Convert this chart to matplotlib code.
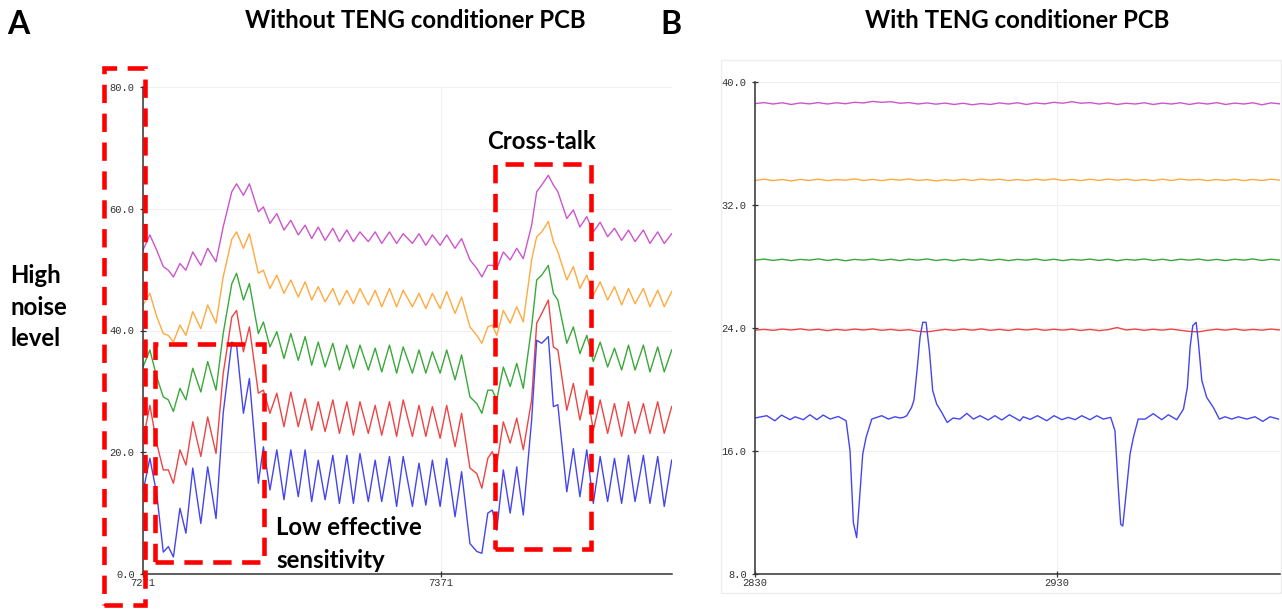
import numpy as np
import matplotlib
matplotlib.use("Agg")
import matplotlib.pyplot as plt
from matplotlib.patches import Rectangle

# ---------------- data: panel A (without conditioner) ----------------
xa = [7271.0, 7273.3, 7275.6, 7277.8, 7279.5, 7281.2, 7283.4, 7285.4, 7287.7, 7290.4,
      7292.7, 7295.5, 7297.9, 7300.8, 7302.4, 7304.7, 7306.7, 7309.7, 7311.4, 7313.6,
      7315.9, 7318.3, 7320.6, 7323.1, 7325.4, 7327.6, 7329.8, 7332.1, 7334.7, 7336.9,
      7339.4, 7341.6, 7343.8, 7346.6, 7348.9, 7351.1, 7353.7, 7356.1, 7358.3, 7361.4,
      7363.6, 7365.9, 7368.1, 7370.7, 7372.9, 7375.7, 7377.9, 7380.7, 7383.0, 7384.7,
      7386.7, 7388.2, 7389.7, 7391.9, 7394.2, 7396.4, 7398.6, 7401.4, 7403.1, 7404.8,
      7407.0, 7408.7, 7410.2, 7413.2, 7415.4, 7417.6, 7419.9, 7422.1, 7424.4, 7426.9,
      7429.2, 7431.6, 7433.9, 7436.1, 7438.9, 7441.1, 7443.7, 7445.9, 7448.4]

blue_a = [13.5, 19.0, 13.2, 3.6, 4.5, 2.8, 10.8, 6.7, 17.4, 8.3,
          17.6, 9.1, 26.4, 38.1, 37.6, 26.4, 32.1, 14.9, 20.9, 13.8,
          20.4, 12.2, 20.4, 12.7, 20.4, 11.9, 18.7, 12.2, 19.5, 11.6,
          19.5, 11.6, 19.8, 11.9, 18.7, 11.9, 19.3, 11.1, 19.3, 11.1,
          18.2, 11.3, 18.7, 11.1, 19.0, 9.4, 16.8, 5.0, 3.7, 3.4,
          10.0, 10.5, 7.2, 17.1, 10.0, 17.6, 9.7, 25.3, 38.4, 37.9,
          39.0, 27.5, 27.8, 13.5, 20.6, 12.7, 20.4, 11.6, 19.3, 11.9,
          19.0, 11.6, 19.5, 11.9, 19.5, 11.6, 19.3, 11.1, 18.7]

red_a = [22.0, 27.7, 21.5, 17.1, 17.1, 14.9, 20.4, 17.9, 25.0, 19.3,
         25.8, 19.8, 32.9, 42.2, 43.3, 36.5, 40.6, 29.7, 30.2, 26.4,
         29.7, 24.2, 29.9, 24.2, 28.8, 23.6, 28.3, 23.4, 28.6, 23.1,
         28.3, 22.8, 28.3, 23.1, 27.7, 22.8, 28.3, 22.6, 28.6, 22.6,
         27.7, 22.6, 27.5, 22.3, 27.7, 20.9, 26.4, 17.4, 16.5, 14.1,
         19.0, 20.1, 17.9, 25.0, 21.5, 25.6, 20.4, 28.6, 41.2, 42.8,
         45.0, 37.3, 36.8, 26.9, 31.3, 25.3, 30.2, 23.6, 28.6, 23.1,
         28.0, 22.6, 28.3, 23.1, 28.0, 23.1, 28.3, 23.1, 27.5]

green_a = [34.0, 36.8, 32.4, 29.1, 28.6, 26.7, 30.5, 28.6, 33.8, 29.9,
           34.9, 30.2, 39.5, 47.7, 49.4, 45.0, 47.7, 39.5, 41.4, 37.3,
           39.8, 35.4, 39.5, 35.1, 39.0, 34.3, 38.1, 34.0, 37.9, 33.5,
           37.6, 33.8, 37.6, 33.5, 37.1, 33.2, 37.6, 33.0, 37.3, 33.0,
           36.8, 33.0, 36.5, 33.0, 36.8, 31.9, 36.0, 29.1, 28.0, 26.4,
           30.2, 30.2, 28.6, 34.0, 30.8, 34.6, 30.5, 40.6, 48.3, 49.1,
           50.7, 46.1, 45.0, 37.9, 40.6, 36.2, 39.2, 34.9, 38.1, 34.0,
           37.1, 33.5, 37.6, 33.5, 37.6, 33.2, 37.3, 33.2, 36.8]

orange_a = [44.2, 46.1, 42.3, 39.5, 39.2, 38.1, 40.9, 39.2, 43.1, 40.3,
            44.2, 41.2, 48.8, 55.0, 56.2, 53.5, 55.9, 49.4, 49.9, 46.9,
            49.1, 46.1, 48.3, 45.5, 48.0, 45.0, 47.2, 44.7, 46.9, 44.2,
            46.6, 44.4, 46.9, 44.2, 46.6, 43.9, 46.9, 43.9, 46.6, 43.9,
            46.1, 43.6, 46.1, 43.6, 46.4, 42.8, 45.5, 40.6, 39.2, 37.9,
            40.6, 40.9, 39.2, 43.3, 41.2, 43.9, 41.4, 51.6, 55.4, 56.2,
            57.9, 54.6, 52.9, 48.3, 50.5, 46.9, 49.1, 45.8, 48.0, 45.0,
            47.2, 44.2, 46.9, 44.4, 46.9, 43.9, 46.6, 43.9, 46.4]

magenta_a = [53.2, 55.7, 53.2, 50.5, 49.9, 48.8, 51.0, 49.9, 52.9, 50.7,
             53.5, 51.3, 57.0, 62.8, 64.1, 62.2, 64.1, 59.5, 60.3, 57.6,
             59.2, 56.5, 58.1, 55.7, 57.3, 55.1, 57.0, 54.8, 56.8, 54.6,
             56.5, 54.6, 56.2, 54.6, 56.2, 54.3, 56.2, 54.3, 55.9, 54.3,
             55.9, 54.0, 55.7, 54.0, 55.7, 53.5, 55.1, 51.6, 50.2, 48.8,
             50.7, 50.7, 50.2, 52.9, 51.6, 53.5, 51.8, 57.3, 62.8, 63.9,
             65.5, 63.9, 62.8, 58.4, 59.8, 57.0, 58.7, 56.2, 57.8, 55.4,
             56.8, 54.8, 56.5, 54.6, 56.5, 54.3, 56.2, 54.3, 55.9]

xa_ticks = [7271, 7371]
ya_ticks = [0, 20, 40, 60, 80]

# ---------------- data: panel B (with conditioner) ----------------
magenta_b = [38.58, 38.64, 38.55, 38.63, 38.52, 38.62, 38.56, 38.64, 38.55, 38.63,
             38.57, 38.66, 38.62, 38.72, 38.66, 38.70, 38.60, 38.64, 38.55, 38.62,
             38.54, 38.61, 38.52, 38.60, 38.50, 38.58, 38.52, 38.62, 38.55, 38.63,
             38.52, 38.62, 38.56, 38.66, 38.60, 38.70, 38.60, 38.64, 38.55, 38.62,
             38.52, 38.60, 38.55, 38.63, 38.52, 38.61, 38.55, 38.63, 38.52, 38.62,
             38.55, 38.64, 38.52, 38.61, 38.55, 38.63, 38.50, 38.62, 38.56]

orange_b = [33.58, 33.66, 33.57, 33.64, 33.55, 33.65, 33.58, 33.66, 33.57, 33.64,
            33.60, 33.68, 33.58, 33.65, 33.57, 33.66, 33.60, 33.68, 33.58, 33.64,
            33.55, 33.63, 33.57, 33.66, 33.58, 33.67, 33.60, 33.66, 33.57, 33.64,
            33.58, 33.66, 33.60, 33.68, 33.58, 33.65, 33.57, 33.66, 33.58, 33.67,
            33.60, 33.66, 33.58, 33.64, 33.57, 33.66, 33.58, 33.67, 33.60, 33.65,
            33.57, 33.64, 33.58, 33.66, 33.57, 33.65, 33.58, 33.66, 33.60]

green_b = [28.40, 28.47, 28.38, 28.46, 28.37, 28.45, 28.40, 28.48, 28.38, 28.46,
           28.36, 28.45, 28.40, 28.47, 28.38, 28.46, 28.37, 28.46, 28.40, 28.48,
           28.38, 28.45, 28.36, 28.46, 28.39, 28.47, 28.38, 28.46, 28.37, 28.45,
           28.40, 28.48, 28.38, 28.46, 28.37, 28.45, 28.40, 28.47, 28.38, 28.46,
           28.36, 28.45, 28.40, 28.48, 28.38, 28.46, 28.37, 28.46, 28.40, 28.47,
           28.38, 28.45, 28.37, 28.46, 28.40, 28.48, 28.38, 28.46, 28.40]

red_b = [23.85, 23.90, 23.84, 23.92, 23.86, 23.93, 23.85, 23.91, 23.82, 23.90,
         23.84, 23.92, 23.86, 23.93, 23.84, 23.90, 23.83, 23.88, 23.78, 23.74,
         23.82, 23.90, 23.84, 23.92, 23.85, 23.93, 23.84, 23.90, 23.83, 23.92,
         23.86, 23.93, 23.84, 23.91, 23.85, 23.92, 23.83, 23.90, 23.82, 23.88,
         24.02, 23.86, 23.92, 23.84, 23.91, 23.85, 23.92, 23.84, 23.77, 23.74,
         23.84, 23.91, 23.85, 23.93, 23.84, 23.90, 23.85, 23.92, 23.86]

xb_start, xb_end = 2830, 3004

blue_b_x = [2830.0, 2833.9, 2836.6, 2838.8, 2841.6, 2843.3, 2846.0, 2848.2, 2850.5, 2852.6,
            2854.9, 2857.6, 2860.2, 2861.5, 2862.6, 2863.7, 2864.6, 2865.7, 2866.8, 2868.7,
            2872.0, 2874.2, 2876.4, 2878.1, 2879.2, 2880.3, 2881.9, 2882.7, 2883.8, 2884.7,
            2885.6, 2886.7, 2887.8, 2888.9, 2890.2, 2891.9, 2893.7, 2895.7, 2897.9, 2900.2,
            2902.4, 2904.6, 2907.3, 2909.5, 2911.8, 2914.3, 2917.8, 2918.9, 2921.2, 2923.6,
            2926.7, 2929.1, 2931.7, 2933.8, 2936.1, 2938.3, 2941.0, 2943.3, 2945.4, 2947.9,
            2949.3, 2950.4, 2951.2, 2951.9, 2953.2, 2954.3, 2955.4, 2957.0, 2959.3, 2962.0,
            2964.8, 2967.0, 2969.8, 2972.0, 2973.3, 2974.2, 2975.1, 2976.2, 2976.9, 2978.1,
            2979.7, 2981.9, 2983.9, 2985.8, 2988.0, 2990.2, 2993.0, 2995.7, 2998.3, 3000.7,
            3003.5]

blue_b = [18.14, 18.29, 17.96, 18.33, 18.03, 18.22, 18.03, 18.35, 18.03, 18.33,
          18.07, 18.24, 17.96, 16.00, 11.34, 10.36, 12.75, 15.79, 16.87, 18.07,
          18.29, 18.07, 18.22, 18.14, 18.18, 18.29, 18.83, 19.31, 21.43, 23.39,
          24.36, 24.36, 22.52, 19.92, 19.05, 18.50, 17.85, 18.14, 18.07, 18.44,
          18.07, 18.29, 18.01, 18.29, 18.01, 18.35, 17.96, 18.22, 18.05, 18.29,
          17.96, 18.29, 18.03, 18.18, 18.03, 18.29, 18.03, 18.29, 18.07, 18.18,
          17.31, 13.62, 11.23, 11.12, 13.62, 15.79, 16.87, 18.07, 18.07, 18.42,
          18.03, 18.35, 18.03, 18.72, 20.13, 22.74, 24.15, 24.36, 23.17, 20.57,
          19.48, 18.83, 18.07, 18.22, 18.07, 18.22, 18.07, 18.22, 17.92, 18.22,
          18.07]

xb_ticks = [2830, 2930]
yb_ticks = [8, 16, 24, 32, 40]

# ---------------- style ----------------
C_MAG = '#cc55cc'
C_ORA = '#ffaa40'
C_GRE = '#3aa83a'
C_RED = '#ee4444'
C_BLU = '#4545ee'
AX_COL = '#333333'

W, H = 1282, 609
fig = plt.figure(figsize=(W / 100, H / 100), dpi=100)
fig.patch.set_facecolor('white')


def fx(x):
    return x / W


def fy(y):
    return 1 - y / H


axA = fig.add_axes([fx(143), fy(574), (672 - 143) / W, (574 - 87) / H])
axB = fig.add_axes([fx(755), fy(574), (1280 - 755) / W, (574 - 81.7) / H])

# faint frame around panel B
fig.add_artist(Rectangle((fx(721), fy(593)), (1281 - 721) / W, (593 - 60) / H,
                         transform=fig.transFigure, fill=False,
                         edgecolor='#eeeeee', lw=1.0, zorder=0))


def style_axis(ax, xticks, yticks, xlim, ylim):
    ax.set_xlim(*xlim)
    ax.set_ylim(*ylim)
    ax.set_xticks(xticks)
    ax.set_xticklabels([str(t) for t in xticks])
    ax.set_yticks(yticks)
    ax.set_yticklabels(['%.1f' % t for t in yticks])
    for s in ('top', 'right'):
        ax.spines[s].set_visible(False)
    for s in ('left', 'bottom'):
        ax.spines[s].set_color(AX_COL)
        ax.spines[s].set_linewidth(1.1)
    ax.grid(True, color='#f0f0f0', lw=0.8)
    ax.set_axisbelow(True)
    ax.tick_params(axis='both', direction='inout', length=4, width=0.9,
                   color=AX_COL, labelcolor=AX_COL, labelsize=7.5)
    ax.tick_params(axis='y', pad=4)
    ax.tick_params(axis='x', pad=1)
    for lab in ax.get_xticklabels() + ax.get_yticklabels():
        lab.set_family('Liberation Mono')
    ax.set_facecolor('none')


LW = 1.0
axA.plot(xa, magenta_a, color=C_MAG, lw=LW)
axA.plot(xa, orange_a, color=C_ORA, lw=LW)
axA.plot(xa, green_a, color=C_GRE, lw=LW)
axA.plot(xa, red_a, color=C_RED, lw=LW)
axA.plot(xa, blue_a, color=C_BLU, lw=LW)
style_axis(axA, xa_ticks, ya_ticks, (7271, 7448.5), (0, 80))

axB.plot(np.linspace(xb_start, xb_end, len(magenta_b)), magenta_b, color=C_MAG, lw=LW)
axB.plot(np.linspace(xb_start, xb_end, len(orange_b)), orange_b, color=C_ORA, lw=LW)
axB.plot(np.linspace(xb_start, xb_end, len(green_b)), green_b, color=C_GRE, lw=LW)
axB.plot(np.linspace(xb_start, xb_end, len(red_b)), red_b, color=C_RED, lw=LW)
axB.plot(blue_b_x, blue_b, color=C_BLU, lw=LW)
style_axis(axB, xb_ticks, yb_ticks, (xb_start, xb_end), (8, 40))

# ---------------- red dashed annotation boxes ----------------
def red_box(x0, y0, x1, y1):
    fig.add_artist(Rectangle((fx(x0), fy(y1)), (x1 - x0) / W, (y1 - y0) / H,
                             transform=fig.transFigure, fill=False,
                             edgecolor='#ff0000', lw=3.3,
                             linestyle=(0, (4.0, 2.3)), zorder=10))


red_box(104, 68, 145, 605)
red_box(155, 344, 264, 562)
red_box(495, 164, 591, 549)

# ---------------- texts ----------------
BF = 'Lato'
FS = 17.3
fig.text(fx(7), fy(34), 'A', fontsize=23, fontweight='bold', family=BF,
         ha='left', va='baseline')
fig.text(fx(660), fy(34), 'B', fontsize=23, fontweight='bold', family=BF,
         ha='left', va='baseline')
fig.text(fx(415), fy(28), 'Without TENG conditioner PCB', fontsize=FS,
         fontweight='bold', family=BF, ha='center', va='baseline')
fig.text(fx(1017), fy(28), 'With TENG conditioner PCB', fontsize=FS,
         fontweight='bold', family=BF, ha='center', va='baseline')
for txt, yb in (('High', 283), ('noise', 315), ('level', 346)):
    fig.text(fx(10), fy(yb), txt, fontsize=FS, fontweight='bold', family=BF,
             ha='left', va='baseline')
fig.text(fx(542), fy(149), 'Cross-talk', fontsize=FS, fontweight='bold',
         family=BF, ha='center', va='baseline')
fig.text(fx(276), fy(535), 'Low effective', fontsize=FS, fontweight='bold',
         family=BF, ha='left', va='baseline')
fig.text(fx(276), fy(568), 'sensitivity', fontsize=FS, fontweight='bold',
         family=BF, ha='left', va='baseline')

fig.savefig('out.png', dpi=100, facecolor='white')
